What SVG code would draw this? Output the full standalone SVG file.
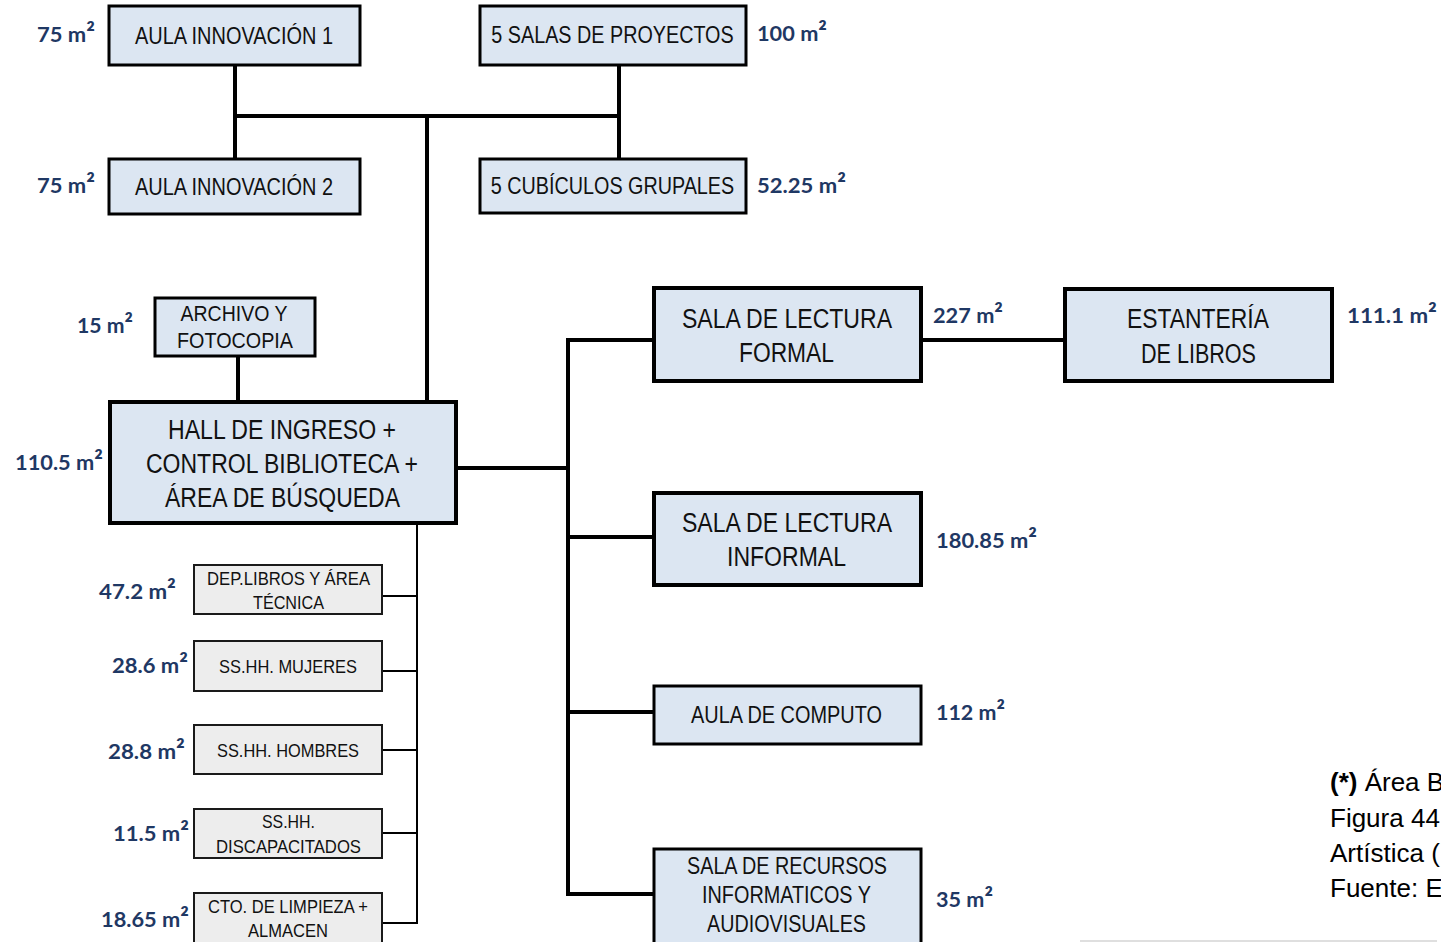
<svg xmlns="http://www.w3.org/2000/svg" width="1441" height="942" viewBox="0 0 1441 942">
  <style>
    .box { fill: #DCE6F2; stroke: #000; stroke-width: 3; }
    .box-heavy { fill: #DCE6F2; stroke: #000; stroke-width: 4; }
    .box-grey { fill: #EDEDED; stroke: #1a1a1a; stroke-width: 2; }
    .t { font-family: "Liberation Sans", Arial, sans-serif; fill: #111; text-anchor: middle; }
    .area { font-family: Lato, "Liberation Sans", sans-serif; font-weight: 700; fill: #1F3864; font-size: 21px; }
    .sq { font-size: 25px; }
    .wire { stroke: #000; stroke-width: 4; fill: none; stroke-linecap: square; }
    .wire-thin { stroke: #000; stroke-width: 2; fill: none; }
    .note { font-family: "Liberation Sans", Arial, sans-serif; fill: #000; font-size: 26px; }
  </style>

  <rect width="1441" height="942" fill="#fff"/>

  <!-- connectors -->
  <g id="connectors">
    <!-- upper cluster bus -->
    <path class="wire" d="M235 66 V158"/>
    <path class="wire" d="M619 66 V158"/>
    <path class="wire" d="M235 116 H619"/>
    <path class="wire" d="M427 116 V401"/>
    <!-- archive to hall -->
    <path class="wire" d="M238 357 V401"/>
    <!-- hall to reading spine -->
    <path class="wire" d="M458 468 H568"/>
    <path class="wire" d="M568 340 V894"/>
    <path class="wire" d="M568 340 H652"/>
    <path class="wire" d="M568 537 H652"/>
    <path class="wire" d="M568 712 H652"/>
    <path class="wire" d="M568 894 H652"/>
    <path class="wire" d="M923 340 H1063"/>
    <!-- service branch -->
    <path class="wire-thin" d="M417 525 V923"/>
    <path class="wire-thin" d="M382 596 H417"/>
    <path class="wire-thin" d="M382 671 H417"/>
    <path class="wire-thin" d="M382 750 H417"/>
    <path class="wire-thin" d="M382 833 H417"/>
    <path class="wire-thin" d="M382 923 H418"/>
  </g>

  <g id="aula-innovacion-1">
    <rect class="box" x="109" y="6" width="251" height="59"/>
    <text class="t" x="234" y="44" font-size="24" textLength="198" lengthAdjust="spacingAndGlyphs">AULA INNOVACIÓN 1</text>
    <text class="area" x="37" y="42" textLength="58" lengthAdjust="spacingAndGlyphs">75 m<tspan class="sq">²</tspan></text>
  </g>

  <g id="aula-innovacion-2">
    <rect class="box" x="109" y="159" width="251" height="55"/>
    <text class="t" x="234" y="195" font-size="24" textLength="198" lengthAdjust="spacingAndGlyphs">AULA INNOVACIÓN 2</text>
    <text class="area" x="37" y="193" textLength="58" lengthAdjust="spacingAndGlyphs">75 m<tspan class="sq">²</tspan></text>
  </g>

  <g id="salas-proyectos">
    <rect class="box" x="480" y="6" width="266" height="59"/>
    <text class="t" transform="translate(612.5 43) scale(0.824 1)" x="0" y="0" font-size="24">5 SALAS DE PROYECTOS</text>
    <text class="area" x="757" y="41" textLength="70" lengthAdjust="spacingAndGlyphs">100 m<tspan class="sq">²</tspan></text>
  </g>

  <g id="cubiculos-grupales">
    <rect class="box" x="480" y="159" width="266" height="54"/>
    <text class="t" transform="translate(612.5 194) scale(0.824 1)" x="0" y="0" font-size="24">5 CUBÍCULOS GRUPALES</text>
    <text class="area" x="757" y="193" textLength="89" lengthAdjust="spacingAndGlyphs">52.25 m<tspan class="sq">²</tspan></text>
  </g>

  <g id="archivo-fotocopia">
    <rect class="box" x="155" y="298" width="160" height="58"/>
    <text class="t" x="234" y="321" font-size="22" textLength="107" lengthAdjust="spacingAndGlyphs">ARCHIVO Y</text>
    <text class="t" x="235" y="348" font-size="22" textLength="116" lengthAdjust="spacingAndGlyphs">FOTOCOPIA</text>
    <text class="area" x="77" y="333" textLength="56" lengthAdjust="spacingAndGlyphs">15 m<tspan class="sq">²</tspan></text>
  </g>

  <g id="hall-ingreso">
    <rect class="box-heavy" x="110" y="402" width="346" height="121"/>
    <text class="t" x="282" y="439" font-size="27" textLength="228" lengthAdjust="spacingAndGlyphs">HALL DE INGRESO +</text>
    <text class="t" x="282" y="473" font-size="27" textLength="272" lengthAdjust="spacingAndGlyphs">CONTROL BIBLIOTECA +</text>
    <text class="t" x="282.5" y="507" font-size="27" textLength="235" lengthAdjust="spacingAndGlyphs">ÁREA DE BÚSQUEDA</text>
    <text class="area" x="15" y="470" textLength="88" lengthAdjust="spacingAndGlyphs">110.5 m<tspan class="sq">²</tspan></text>
  </g>

  <g id="sala-lectura-formal">
    <rect class="box-heavy" x="654" y="288" width="267" height="93"/>
    <text class="t" x="787" y="328" font-size="27" textLength="210" lengthAdjust="spacingAndGlyphs">SALA DE LECTURA</text>
    <text class="t" x="786.5" y="362" font-size="27" textLength="95" lengthAdjust="spacingAndGlyphs">FORMAL</text>
    <text class="area" x="933" y="323" textLength="70" lengthAdjust="spacingAndGlyphs">227 m<tspan class="sq">²</tspan></text>
  </g>

  <g id="estanteria-libros">
    <rect class="box-heavy" x="1065" y="289" width="267" height="92"/>
    <text class="t" x="1198" y="328" font-size="27" textLength="142" lengthAdjust="spacingAndGlyphs">ESTANTERÍA</text>
    <text class="t" x="1198.5" y="363" font-size="27" textLength="115" lengthAdjust="spacingAndGlyphs">DE LIBROS</text>
    <text class="area" x="1347" y="323" textLength="90" lengthAdjust="spacingAndGlyphs">111.1 m<tspan class="sq">²</tspan></text>
  </g>

  <g id="sala-lectura-informal">
    <rect class="box-heavy" x="654" y="493" width="267" height="92"/>
    <text class="t" x="787" y="532" font-size="27" textLength="210" lengthAdjust="spacingAndGlyphs">SALA DE LECTURA</text>
    <text class="t" x="786.5" y="566" font-size="27" textLength="119" lengthAdjust="spacingAndGlyphs">INFORMAL</text>
    <text class="area" x="936" y="548" textLength="101" lengthAdjust="spacingAndGlyphs">180.85 m<tspan class="sq">²</tspan></text>
  </g>

  <g id="aula-computo">
    <rect class="box" x="654" y="686" width="267" height="58"/>
    <text class="t" x="786.5" y="723" font-size="24" textLength="191" lengthAdjust="spacingAndGlyphs">AULA DE COMPUTO</text>
    <text class="area" x="936" y="720" textLength="69" lengthAdjust="spacingAndGlyphs">112 m<tspan class="sq">²</tspan></text>
  </g>

  <g id="sala-recursos">
    <rect class="box" x="654" y="849" width="267" height="100"/>
    <text class="t" x="787" y="874" font-size="23" textLength="200" lengthAdjust="spacingAndGlyphs">SALA DE RECURSOS</text>
    <text class="t" x="786.5" y="903" font-size="23" textLength="169" lengthAdjust="spacingAndGlyphs">INFORMATICOS Y</text>
    <text class="t" x="786.5" y="932" font-size="23" textLength="159" lengthAdjust="spacingAndGlyphs">AUDIOVISUALES</text>
    <text class="area" x="936" y="907" textLength="57" lengthAdjust="spacingAndGlyphs">35 m<tspan class="sq">²</tspan></text>
  </g>

  <g id="dep-libros">
    <rect class="box-grey" x="194" y="565" width="188" height="49"/>
    <text class="t" x="288.5" y="585" font-size="19" textLength="163" lengthAdjust="spacingAndGlyphs">DEP.LIBROS Y ÁREA</text>
    <text class="t" x="288.5" y="609" font-size="19" textLength="71" lengthAdjust="spacingAndGlyphs">TÉCNICA</text>
    <text class="area" x="99" y="599" textLength="77" lengthAdjust="spacingAndGlyphs">47.2 m<tspan class="sq">²</tspan></text>
  </g>

  <g id="sshh-mujeres">
    <rect class="box-grey" x="194" y="641" width="188" height="50"/>
    <text class="t" x="288" y="673" font-size="19" textLength="138" lengthAdjust="spacingAndGlyphs">SS.HH. MUJERES</text>
    <text class="area" x="112" y="673" textLength="76" lengthAdjust="spacingAndGlyphs">28.6 m<tspan class="sq">²</tspan></text>
  </g>

  <g id="sshh-hombres">
    <rect class="box-grey" x="194" y="725" width="188" height="49"/>
    <text class="t" x="288" y="757" font-size="19" textLength="142" lengthAdjust="spacingAndGlyphs">SS.HH. HOMBRES</text>
    <text class="area" x="108" y="759" textLength="77" lengthAdjust="spacingAndGlyphs">28.8 m<tspan class="sq">²</tspan></text>
  </g>

  <g id="sshh-discapacitados">
    <rect class="box-grey" x="194" y="809" width="188" height="49"/>
    <text class="t" x="288.5" y="828" font-size="19" textLength="53" lengthAdjust="spacingAndGlyphs">SS.HH.</text>
    <text class="t" x="288.5" y="853" font-size="19" textLength="145" lengthAdjust="spacingAndGlyphs">DISCAPACITADOS</text>
    <text class="area" x="113" y="841" textLength="76" lengthAdjust="spacingAndGlyphs">11.5 m<tspan class="sq">²</tspan></text>
  </g>

  <g id="cto-limpieza">
    <rect class="box-grey" x="194" y="893" width="188" height="60"/>
    <text class="t" x="288" y="913" font-size="19" textLength="160" lengthAdjust="spacingAndGlyphs">CTO. DE LIMPIEZA +</text>
    <text class="t" x="288" y="937" font-size="19" textLength="80" lengthAdjust="spacingAndGlyphs">ALMACEN</text>
    <text class="area" x="101" y="927" textLength="88" lengthAdjust="spacingAndGlyphs">18.65 m<tspan class="sq">²</tspan></text>
  </g>

  <!-- side note -->
  <g id="note">
    <text class="note" x="1330" y="791"><tspan font-weight="700">(*)</tspan> Área B</text>
    <text class="note" x="1330" y="827">Figura 44</text>
    <text class="note" x="1330" y="862">Artística (</text>
    <text class="note" x="1330" y="897">Fuente: E</text>
    <line x1="1080" y1="941" x2="1437" y2="941" stroke="#D4D4D4" stroke-width="1.5"/>
  </g>
</svg>
